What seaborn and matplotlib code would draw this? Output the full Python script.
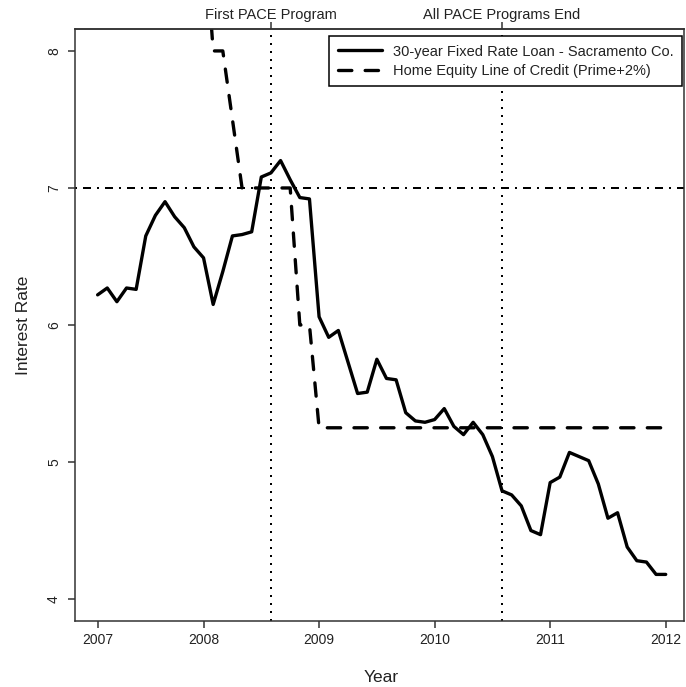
import numpy as np
import pandas as pd
import matplotlib
matplotlib.use("Agg")
import matplotlib.pyplot as plt
import seaborn as sns

# Monthly observations, Feb 2007 - Jan 2012
months = pd.date_range("2007-02-01", periods=60, freq="MS")

# 30-year fixed mortgage rate, Sacramento County (%)
fixed_30yr = [6.22, 6.27, 6.17, 6.27, 6.26, 6.65, 6.80, 6.90, 6.79, 6.71, 6.57,
              6.49, 6.15, 6.39, 6.65, 6.66, 6.68, 7.08, 7.11, 7.20, 7.06, 6.93, 6.92,
              6.06, 5.91, 5.96, 5.73, 5.50, 5.51, 5.75, 5.61, 5.60, 5.36, 5.30, 5.29,
              5.31, 5.39, 5.26, 5.20, 5.29, 5.20, 5.04, 4.79, 4.76, 4.68, 4.50, 4.47,
              4.85, 4.89, 5.07, 5.04, 5.01, 4.84, 4.59, 4.63, 4.38, 4.28, 4.27, 4.18,
              4.18]

# Home equity line of credit, prime + 2 (%); earlier months lie above the plotted range
heloc = ([np.nan] * 11 + [9.00, 8.00, 8.00, 7.50]
         + [7.00] * 6 + [6.00, 6.00] + [5.25] * 37)

labels = ["30-year Fixed Rate Loan - Sacramento Co.",
          "Home Equity Line of Credit (Prime+2%)"]
reference_rate = 7.0
events = {"First PACE Program": "2008-08", "All PACE Programs End": "2010-08"}
years = [2007, 2008, 2009, 2010, 2011, 2012]

t = np.arange(len(months))
df = pd.DataFrame({"t": t, "fixed": fixed_30yr, "heloc": heloc})

# tick positions: first observed month of each year
year_pos = [int(np.argmax(months.year == y)) for y in years]
event_pos = [int(np.argmax(months == pd.Timestamp(d))) for d in events.values()]

sns.set_theme(style="white")
plt.rcParams["font.family"] = ["Liberation Sans", "DejaVu Sans"]

ink = "#222222"
fig = plt.figure(figsize=(6.86, 6.87), dpi=100)
ax = fig.add_axes([75 / 686, 66 / 687, 609 / 686, 592 / 687])

sns.lineplot(data=df, x="t", y="fixed", ax=ax, color="black", linewidth=2.4)
fixed_line = ax.lines[-1]
fixed_line.set_solid_joinstyle("round")
fixed_line.set_solid_capstyle("round")

sns.lineplot(data=df, x="t", y="heloc", ax=ax, color="black", linewidth=2.4)
heloc_line = ax.lines[-1]
heloc_line.set_linestyle((0, (4, 4)))
heloc_line.set_dash_capstyle("round")
heloc_line.set_dash_joinstyle("round")

ax.axhline(reference_rate, color="black", linewidth=1.44, linestyle=(0, (1, 3, 4, 3)))
for p in event_pos:
    ax.axvline(p, color="black", linewidth=1.44, linestyle=(0, (1, 3)))

ax.set_xlim(-2.35, 60.9)
ax.set_ylim(3.84, 8.16)

ax.set_xticks(year_pos, labels=[str(y) for y in years])
ax.set_yticks([4, 5, 6, 7, 8])
ax.tick_params(axis="both", bottom=True, left=True, length=5, width=1.1,
               color="#333333", labelsize=10, labelcolor=ink, pad=4)
ax.tick_params(axis="y", labelrotation=90, pad=5)
for lab in ax.get_yticklabels():
    lab.set_verticalalignment("center")

for side in ax.spines.values():
    side.set_color("#333333")
    side.set_linewidth(1.1)

top = ax.secondary_xaxis("top")
top.set_xticks(event_pos, labels=list(events.keys()))
top.tick_params(length=5, width=1.1, color="#333333", labelsize=10.5,
                labelcolor=ink, pad=0)
top.spines["top"].set_color("#333333")
top.spines["top"].set_linewidth(1.1)

ax.set_xlabel("Year", fontsize=12.5, color=ink)
ax.set_ylabel("Interest Rate", fontsize=12.5, color=ink)
ax.xaxis.set_label_coords(0.502, -0.082)
ax.yaxis.set_label_coords(-0.072, 0.5)

leg = ax.legend([fixed_line, heloc_line], labels, loc="upper right",
                bbox_to_anchor=(0.9967, 0.9885), borderaxespad=0,
                fontsize=10.5, frameon=True, fancybox=False, framealpha=1,
                edgecolor="black", handlelength=3.0, handletextpad=0.75,
                labelspacing=0.35, borderpad=0.6)
leg.get_frame().set_linewidth(1.1)
for txt in leg.get_texts():
    txt.set_color(ink)

fig.savefig("out.png", dpi=100)
